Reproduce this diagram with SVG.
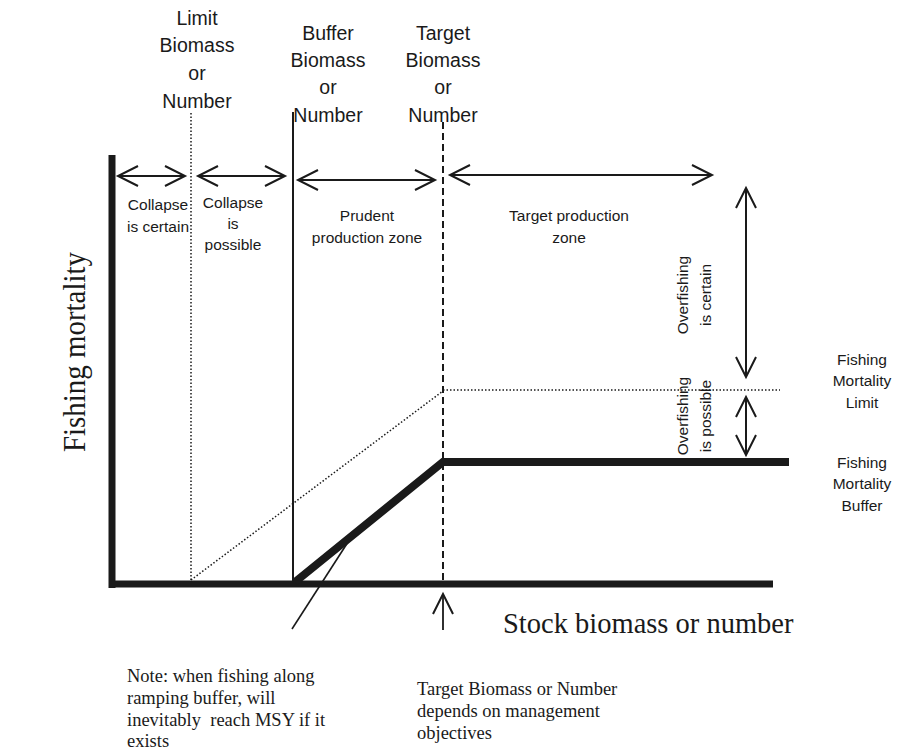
<svg xmlns="http://www.w3.org/2000/svg" width="914" height="753" viewBox="0 0 914 753">
<defs>
<marker id="vh" markerUnits="userSpaceOnUse" viewBox="-22 -12 24 24" refX="0" refY="0" markerWidth="24" markerHeight="24" orient="auto-start-reverse" overflow="visible">
<path d="M -20 -10 L 0 0 L -20 10" fill="none" stroke="#1a1a1a" stroke-width="2"/>
</marker>
<style>
.sans{font-family:"Liberation Sans",Arial,sans-serif;fill:#1a1a1a}
.hd{font-size:19.5px;text-anchor:middle}
.zn{font-size:15.5px;text-anchor:middle}
.ser{font-family:"Liberation Serif","Times New Roman",serif;fill:#1a1a1a}
.note{font-size:18.5px}
.ln{fill:none;stroke:#1a1a1a}
.arr{fill:none;stroke:#1a1a1a;stroke-width:2;marker-start:url(#vh);marker-end:url(#vh)}
.dot{fill:none;stroke:#1a1a1a;stroke-width:1.5;stroke-dasharray:1.5 2}
</style>
</defs>
<rect width="914" height="753" fill="#ffffff"/>

<g id="axes">
<line class="ln" x1="112" y1="155" x2="112" y2="588" stroke-width="7"/>
<line class="ln" x1="109" y1="584" x2="773" y2="584" stroke-width="7"/>
<text class="ser" transform="translate(85,352) rotate(-90)" font-size="32" text-anchor="middle" textLength="200" lengthAdjust="spacingAndGlyphs">Fishing mortality</text>
<text class="ser" x="503" y="633" font-size="28.5">Stock biomass or number</text>
</g>

<g id="limit-biomass">
<line class="dot" x1="191" y1="113" x2="191" y2="581"/>
<text class="sans hd" x="197" y="25">Limit</text>
<text class="sans hd" x="197" y="52">Biomass</text>
<text class="sans hd" x="197" y="80">or</text>
<text class="sans hd" x="197" y="108">Number</text>
</g>

<g id="buffer-biomass">
<line class="ln" x1="293" y1="112" x2="293" y2="582" stroke-width="2"/>
<text class="sans hd" x="328" y="40">Buffer</text>
<text class="sans hd" x="328" y="67">Biomass</text>
<text class="sans hd" x="328" y="94">or</text>
<text class="sans hd" x="328" y="122">Number</text>
</g>

<g id="target-biomass">
<line class="ln" x1="443" y1="122" x2="443" y2="582" stroke-width="2" stroke-dasharray="7 4"/>
<text class="sans hd" x="443" y="40">Target</text>
<text class="sans hd" x="443" y="67">Biomass</text>
<text class="sans hd" x="443" y="94">or</text>
<text class="sans hd" x="443" y="122">Number</text>
</g>

<g id="zones">
<text class="sans zn" x="158" y="210">Collapse</text>
<text class="sans zn" x="158" y="232">is certain</text>
<text class="sans zn" x="233" y="208">Collapse</text>
<text class="sans zn" x="233" y="229">is</text>
<text class="sans zn" x="233" y="250">possible</text>
<text class="sans zn" x="367" y="221">Prudent</text>
<text class="sans zn" x="367" y="243">production zone</text>
<text class="sans zn" x="569" y="221">Target production</text>
<text class="sans zn" x="569" y="243">zone</text>
</g>

<g id="fishing-mortality-limit">
<line class="dot" x1="191" y1="580" x2="443" y2="391"/>
<line class="dot" x1="443" y1="390" x2="780" y2="390"/>
<text class="sans zn" x="862" y="365">Fishing</text>
<text class="sans zn" x="862" y="386">Mortality</text>
<text class="sans zn" x="862" y="408">Limit</text>
</g>

<g id="fishing-mortality-buffer">
<polyline class="ln" points="295,582 443,462 789,462" stroke-width="8" stroke-linejoin="miter"/>
<text class="sans zn" x="862" y="468">Fishing</text>
<text class="sans zn" x="862" y="489">Mortality</text>
<text class="sans zn" x="862" y="511">Buffer</text>
</g>

<g id="overfishing">
<text class="sans zn" transform="translate(688,295) rotate(-90)">Overfishing</text>
<text class="sans zn" transform="translate(711,295) rotate(-90)">is certain</text>
<text class="sans zn" transform="translate(688,416) rotate(-90)">Overfishing</text>
<text class="sans zn" transform="translate(711,416) rotate(-90)">is possible</text>
</g>

<g id="connectors">
<line class="arr" x1="118" y1="176" x2="185" y2="176"/>
<line class="arr" x1="198" y1="176" x2="285" y2="176"/>
<line class="arr" x1="298" y1="180" x2="435" y2="180"/>
<line class="arr" x1="450" y1="175" x2="712" y2="175"/>
<line class="arr" x1="746" y1="188" x2="746" y2="377"/>
<line class="arr" x1="746" y1="397" x2="746" y2="455"/>
<line class="ln" x1="348" y1="542" x2="292" y2="629" stroke-width="1.6"/>
<line class="ln" x1="443" y1="630" x2="443" y2="594" stroke-width="1.8" marker-end="url(#vh)"/>
</g>

<g id="notes">
<text class="ser note" x="127" y="682">Note: when fishing along</text>
<text class="ser note" x="127" y="704">ramping buffer, will</text>
<text class="ser note" x="127" y="726" xml:space="preserve">inevitably  reach MSY if it</text>
<text class="ser note" x="127" y="747">exists</text>
<text class="ser note" x="417" y="695">Target Biomass or Number</text>
<text class="ser note" x="417" y="717">depends on management</text>
<text class="ser note" x="417" y="739">objectives</text>
</g>
</svg>
